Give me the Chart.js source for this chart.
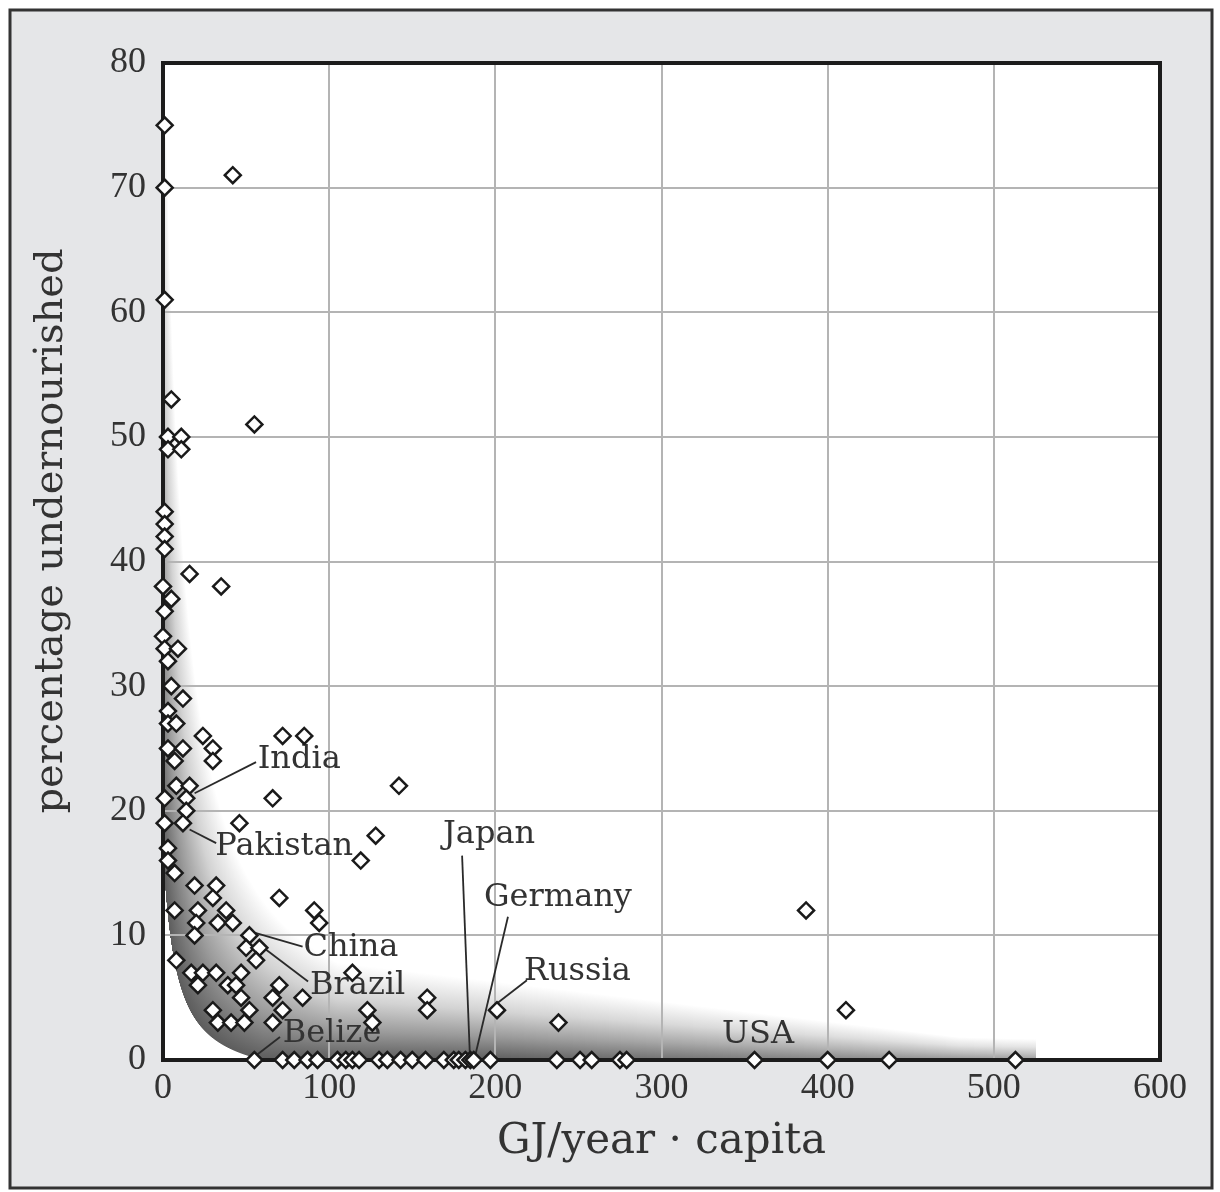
<!DOCTYPE html>
<html>
<head>
<meta charset="utf-8">
<script src="https://cdn.jsdelivr.net/npm/chart.js@4.4.1/dist/chart.umd.min.js"></script>
<style>
    html, body { margin: 0; padding: 0; background: #fff; }
    #wrap { width: 1220px; height: 1192px; position: relative; }
</style>
</head>
<body>
<div id="wrap"><canvas id="chart"></canvas></div>
<script>
// --- Data ---
// energy use per head, GJ/year
const energyUse = [
    1, 42, 1, 1, 5, 55, 3, 11, 3, 11,
    1, 1, 1, 1, 16, 35, 0, 5, 1, 0, 1, 9, 3, 5, 12, 3, 3, 8, 24, 72, 85, 3, 12, 30, 7, 30,
    8, 16, 142, 1, 14, 66, 14, 1, 12, 46, 128, 3, 3, 119, 7, 19, 32, 30, 70,
    7, 21, 38, 91, 94, 20, 33, 42, 19, 52, 50, 58, 8, 56, 17, 24, 32, 47, 114,
    21, 39, 44, 70, 47, 66, 84, 159, 30, 52, 72, 123, 159, 201, 411, 387,
    33, 41, 49, 66, 126, 238,
    55, 72, 79, 87, 93, 105, 110, 114, 118, 130, 135, 143, 150, 158, 169, 175, 178, 182, 185, 187,
    197, 237, 251, 258, 275, 279, 356, 400, 437, 513
];
// percentage of population undernourished
const undernourished = [
    75, 71, 70, 61, 53, 51, 50, 50, 49, 49,
    44, 43, 42, 41, 39, 38, 38, 37, 36, 34, 33, 33, 32, 30, 29, 28, 27, 27, 26, 26, 26, 25, 25, 25, 24, 24,
    22, 22, 22, 21, 21, 21, 20, 19, 19, 19, 18, 17, 16, 16, 15, 14, 14, 13, 13,
    12, 12, 12, 12, 11, 11, 11, 11, 10, 10, 9, 9, 8, 8, 7, 7, 7, 7, 7,
    6, 6, 6, 6, 5, 5, 5, 5, 4, 4, 4, 4, 4, 4, 4, 12,
    3, 3, 3, 3, 3, 3,
    0, 0, 0, 0, 0, 0, 0, 0, 0, 0, 0, 0, 0, 0, 0, 0, 0, 0, 0, 0,
    0, 0, 0, 0, 0, 0, 0, 0, 0, 0
];
const xTicks = [0, 100, 200, 300, 400, 500, 600];
const yTicks = [0, 10, 20, 30, 40, 50, 60, 70, 80];

// country call-outs: text anchor and leader line, all in data units
const callouts = [
    { name: 'India',    at: [57, 24.1],    line: [[19, 21.4], [56, 23.9]] },
    { name: 'Pakistan', at: [31.5, 17.1],  line: [[16, 18.5], [32, 17.4]] },
    { name: 'China',    at: [84.5, 9.0],   line: [[55.5, 10.2], [84, 9.1]] },
    { name: 'Brazil',   at: [88.5, 6.0],   line: [[59.5, 9.1], [87.3, 6.3]] },
    { name: 'Belize',   at: [72, 2.15],    line: [[55.4, 0.3], [70.4, 1.85]] },
    { name: 'Japan',    at: [168.5, 18.05], line: [[180, 16.4], [184.7, 0.3]] },
    { name: 'Germany',  at: [193.2, 13.0], line: [[207.6, 11.5], [187.8, 0.3]] },
    { name: 'Russia',   at: [217.2, 7.1],  line: [[219, 6.4], [201.5, 4.6]] },
    { name: 'USA',      at: [336.4, 2.0],  line: null }
];

const points = energyUse.map((x, i) => ({ x: x, y: undernourished[i] }));

const serif = '"DejaVu Serif", serif';
const tickFont = { family: '"Liberation Serif", serif', size: 36 };
const inkColor = '#333';

// --- shaded band near the axes ---
function innerEdge(x) { return 150 / (x + 8) - 2.2; }
function outerEdge(x) { return Math.max(900 / (x + 10), 9.5 - 0.016 * x); }
function shadeStrength(x) { return x < 200 ? 0.72 : 0.72 - 0.28 * (x - 200) / 325; }

const backdrop = {
    id: 'backdrop',
    beforeDraw(chart) {
        const ctx = chart.ctx;
        const area = chart.chartArea;
        const xs = chart.scales.x, ys = chart.scales.y;
        ctx.save();
        ctx.fillStyle = '#fff';
        ctx.fillRect(0, 0, chart.width, chart.height);
        ctx.fillStyle = '#e5e6e8';
        ctx.fillRect(10, 10, 1202, 1178);
        ctx.strokeStyle = '#333';
        ctx.lineWidth = 3;
        ctx.strokeRect(10, 10, 1202, 1178);
        ctx.fillStyle = '#fff';
        ctx.fillRect(area.left, area.top, area.right - area.left, area.bottom - area.top);

        const endPx = xs.getPixelForValue(525);
        for (let px = area.left; px < endPx; px++) {
            const x = xs.getValueForPixel(px + 0.5);
            const y0 = Math.max(0, innerEdge(x));
            const y1 = outerEdge(x);
            if (y1 <= y0) continue;
            const p0 = ys.getPixelForValue(y0);
            const p1 = ys.getPixelForValue(y1);
            const pt = ys.getPixelForValue(Math.min(y1, 74));
            const a = shadeStrength(x);
            const g = ctx.createLinearGradient(0, p0, 0, p1);
            g.addColorStop(0, 'rgba(30,30,30,' + a + ')');
            g.addColorStop(0.3, 'rgba(30,30,30,' + (a * 0.62) + ')');
            g.addColorStop(0.62, 'rgba(30,30,30,' + (a * 0.27) + ')');
            g.addColorStop(1, 'rgba(30,30,30,0)');
            ctx.fillStyle = g;
            ctx.fillRect(px, pt, 1, p0 - pt);
        }
        ctx.restore();
    },
    beforeDatasetsDraw(chart) {
        const ctx = chart.ctx;
        const area = chart.chartArea;
        const xs = chart.scales.x, ys = chart.scales.y;
        ctx.save();
        ctx.strokeStyle = '#1c1c1c';
        ctx.lineWidth = 4;
        ctx.strokeRect(area.left, area.top, area.right - area.left, area.bottom - area.top);

        ctx.strokeStyle = '#2a2a2a';
        ctx.lineWidth = 1.8;
        ctx.fillStyle = inkColor;
        ctx.font = '32px ' + serif;
        ctx.textBaseline = 'middle';
        ctx.textAlign = 'left';
        callouts.forEach(c => {
            if (c.line) {
                ctx.beginPath();
                ctx.moveTo(xs.getPixelForValue(c.line[0][0]), ys.getPixelForValue(c.line[0][1]));
                ctx.lineTo(xs.getPixelForValue(c.line[1][0]), ys.getPixelForValue(c.line[1][1]));
                ctx.stroke();
            }
            ctx.fillText(c.name, xs.getPixelForValue(c.at[0]), ys.getPixelForValue(c.at[1]));
        });
        ctx.restore();
    },
    afterDraw(chart) {
        // y-axis title, sitting a little above the middle as in the original
        const ctx = chart.ctx;
        ctx.save();
        ctx.translate(52, 531);
        ctx.rotate(-Math.PI / 2);
        ctx.fillStyle = inkColor;
        ctx.font = '40px ' + serif;
        ctx.textAlign = 'center';
        ctx.textBaseline = 'middle';
        ctx.fillText('percentage undernourished', 0, 0);
        ctx.restore();
    }
};

new Chart(document.getElementById('chart'), {
    type: 'scatter',
    data: {
        datasets: [{
            data: points,
            pointStyle: 'rectRot',
            pointRadius: 8,
            pointBorderWidth: 2.5,
            pointBorderColor: '#1a1a1a',
            pointBackgroundColor: '#fff',
            clip: false
        }]
    },
    options: {
        responsive: true,
        maintainAspectRatio: false,
        devicePixelRatio: 1,
        animation: false,
        layout: { padding: { top: 63, right: 60, left: 0, bottom: 0 } },
        plugins: { legend: { display: false }, tooltip: { enabled: false } },
        scales: {
            x: {
                type: 'linear',
                min: 0, max: 600,
                afterBuildTicks: s => { s.ticks = xTicks.map(v => ({ value: v })); },
                afterFit: s => { s.height = 132; },
                ticks: { font: tickFont, color: inkColor, padding: 7, maxRotation: 0 },
                grid: { color: '#b4b4b4', lineWidth: 2, drawTicks: false },
                border: { display: false },
                title: {
                    display: true,
                    text: 'GJ/year · capita',
                    color: inkColor,
                    font: { family: serif, size: 42 },
                    padding: { top: 0, bottom: 25 }
                }
            },
            y: {
                type: 'linear',
                min: 0, max: 80,
                afterBuildTicks: s => { s.ticks = yTicks.map(v => ({ value: v })); },
                afterFit: s => { s.width = 163; },
                ticks: { font: tickFont, color: inkColor, padding: 17 },
                grid: { color: '#b4b4b4', lineWidth: 2, drawTicks: false },
                border: { display: false },
                title: { display: false }
            }
        }
    },
    plugins: [backdrop]
});
</script>
</body>
</html>
